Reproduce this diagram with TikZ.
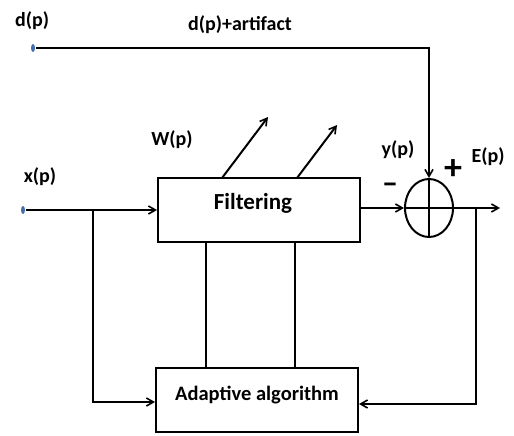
\documentclass[tikz,border=0pt]{standalone}
\usepackage{fontspec}
\setmainfont{Carlito}
\usetikzlibrary{arrows.meta,shapes.geometric}
\definecolor{dotblue}{RGB}{70,110,170}
\begin{document}
\begin{tikzpicture}[x=1pt,y=-1pt,
  line width=2pt,
  >={Straight Barb[length=7pt,width=8pt,line width=1.6pt]},
  blk/.style={draw,line width=2pt,minimum width=202pt,minimum height=64pt,font=\bfseries\fontsize{23}{25}\selectfont},
  lbl/.style={font=\bfseries\fontsize{20}{22}\selectfont,inner sep=0pt},
  dotn/.style={ellipse,fill=dotblue,draw=none,minimum width=4pt,minimum height=8pt,inner sep=0pt}]
\useasboundingbox (0,0) rectangle (514,436);
% blocks
\node[blk] (filt) at (259,210) {};
\node[font=\bfseries\fontsize{23}{25}\selectfont] (ftxt) at (253,203) {Filtering};
\node[blk] (adap) at (257,400) {};
\node[font=\bfseries\fontsize{20.5}{23}\selectfont] (atxt) at (257,395) {Adaptive algorithm};
% summing junction
\node[ellipse,draw,line width=2pt,minimum width=48pt,minimum height=58pt,inner sep=0pt] (sum) at (429,208) {};
\draw (sum.north) -- (sum.south);
\draw (sum.west) -- (sum.east);
% input dots
\node[dotn] (din) at (33,48) {};
\node[dotn] (xin) at (23,210) {};
% coordinates
\coordinate (dc) at (429,48);
\coordinate (jx) at (93,210);
\coordinate (jxb) at (93,402);
\coordinate (out) at (500,208);
\coordinate (je) at (476,208);
\coordinate (jeb) at (476,404);
% d path
\draw[->] (din) -- (dc) -- (sum.north);
% x path
\draw[->] (xin) -- (filt.west |- xin);
\draw[->] (jx) -- (jxb) -- (adap.west |- jxb);
% filter output
\draw[->] (filt.east |- sum.west) -- (sum.west);
\draw[->] (sum.east) -- (out);
\draw[->] (je) -- (jeb) -- (adap.east |- jeb);
% links between blocks
\draw (206,242) -- (206,368);
\draw (295,242) -- (295,368);
% weight arrows
\draw[->] (222,178) -- (268,117);
\draw[->] (297,178) -- (337,125);
% labels
\node[lbl] (ld) at (32,21) {d(p)};
\node[lbl] (la) at (240,25) {d(p)+artifact};
\node[lbl] (lw) at (172,140) {W(p)};
\node[lbl] (lx) at (40,177) {x(p)};
\node[lbl] (ly) at (398,150) {y(p)};
\node[lbl] (le) at (488,157) {E(p)};
\node[font=\bfseries\fontsize{32}{34}\selectfont,inner sep=0pt] (lm) at (390,188) {–};
\node[font=\bfseries\fontsize{36}{38}\selectfont,inner sep=0pt] (lp) at (453,170) {+};
\end{tikzpicture}
\end{document}
